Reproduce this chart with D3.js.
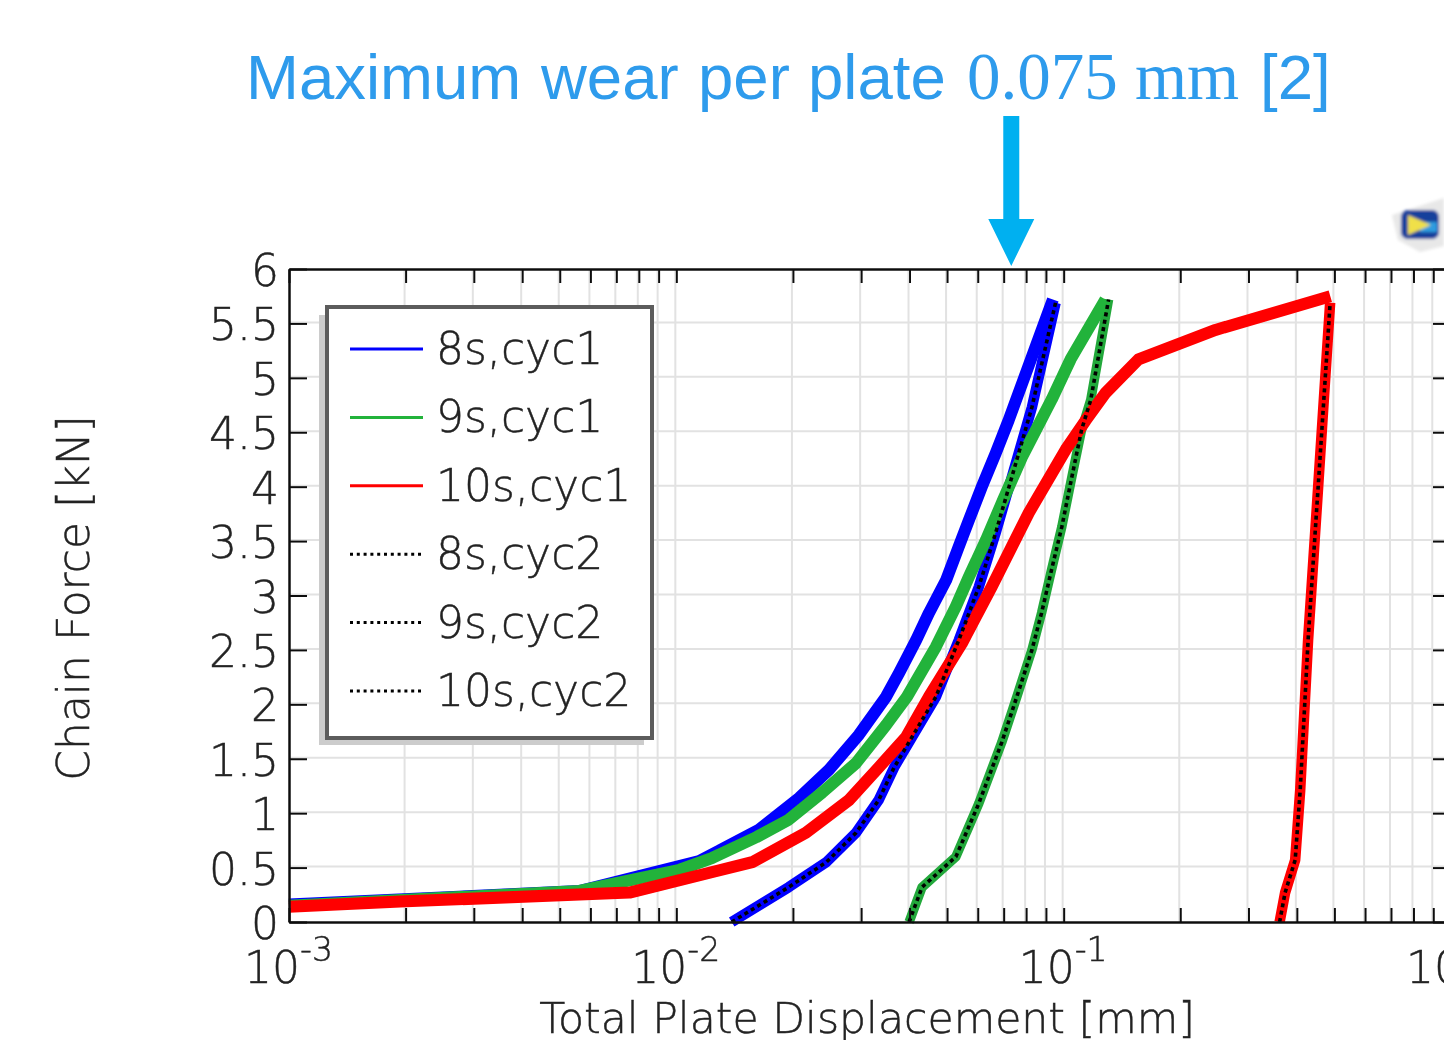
<!DOCTYPE html>
<html>
<head>
<meta charset="utf-8">
<script src="https://cdn.jsdelivr.net/npm/d3@7"></script>
<style>
    html, body { margin: 0; padding: 0; background: #fff; overflow: hidden; }
    svg { display: block; }
    text { font-family: "DejaVu Sans", sans-serif; font-weight: 200; fill: #222; stroke: #222; stroke-width: 0.45; }
</style>
</head>
<body>
<svg id="chart" width="1444" height="1040"></svg>
<script>
// [displacement mm, force kN]
const blueLoad = [[0.001, 0.16], [0.00562, 0.285], [0.01146, 0.56], [0.01637, 0.85], [0.02075, 1.14], [0.0248, 1.40], [0.0296, 1.72], [0.0348, 2.07], [0.0376, 2.29], [0.0416, 2.59], [0.0449, 2.84], [0.0497, 3.14], [0.0536, 3.45], [0.0569, 3.69], [0.0615, 4.0], [0.0668, 4.31], [0.0721, 4.61], [0.0938, 5.72]];
const blueBack = [[0.0139, 0], [0.0195, 0.32], [0.0244, 0.55], [0.0291, 0.82], [0.0333, 1.12], [0.0365, 1.42], [0.0406, 1.70], [0.0468, 2.07], [0.0536, 2.59], [0.0604, 3.08], [0.0668, 3.58], [0.0735, 4.09], [0.0828, 4.73], [0.0953, 5.69]];
const greenLoad = [[0.001, 0.15], [0.00562, 0.285], [0.0102, 0.48], [0.0124, 0.59], [0.0161, 0.78], [0.0195, 0.94], [0.0238, 1.19], [0.0291, 1.46], [0.0348, 1.81], [0.0394, 2.07], [0.0468, 2.53], [0.0527, 2.90], [0.0569, 3.17], [0.063, 3.51], [0.0692, 3.85], [0.078, 4.27], [0.0931, 4.80], [0.1042, 5.17], [0.1282, 5.72]];
const greenBack = [[0.0399, 0], [0.0431, 0.32], [0.0527, 0.60], [0.0604, 1.09], [0.0692, 1.65], [0.0757, 2.07], [0.0828, 2.50], [0.0877, 2.84], [0.0931, 3.24], [0.0989, 3.63], [0.105, 4.09], [0.1112, 4.52], [0.1175, 4.80], [0.1306, 5.72]];
const redLoad = [[0.001, 0.14], [0.002, 0.19], [0.00757, 0.27], [0.0157, 0.55], [0.0216, 0.82], [0.0279, 1.12], [0.0333, 1.42], [0.0392, 1.70], [0.0449, 2.07], [0.0546, 2.56], [0.0652, 3.08], [0.0735, 3.45], [0.0813, 3.76], [0.09, 4.03], [0.1012, 4.34], [0.114, 4.61], [0.1282, 4.86], [0.156, 5.17], [0.2466, 5.44], [0.488, 5.75]];
const redBack = [[0.361, 0], [0.373, 0.27], [0.396, 0.57], [0.408, 1.21], [0.4276, 2.59], [0.454, 4.0], [0.4875, 5.69]];

const legendLabels = ["8s,cyc1", "9s,cyc1", "10s,cyc1", "8s,cyc2", "9s,cyc2", "10s,cyc2"];
const legendColors = ["#0000ff", "#22b33a", "#ff0000", "#000", "#000", "#000"];
const yTicks = d3.range(0, 6.01, 0.5);
const yTickLabels = ["0", "0.5", "1", "1.5", "2", "2.5", "3", "3.5", "4", "4.5", "5", "5.5", "6"];
const decades = [0.001, 0.01, 0.1, 1];
const decadeLabels = ["-3", "-2", "-1", "0"];
const multipliers = [1, 2, 3, 4, 5, 6, 7, 8, 9];
const xTicks = decades.slice(0, 3).flatMap(d => multipliers.map(m => d * m)).concat([1]);

const svg = d3.select("#chart");
const plot = { left: 289, right: 1451, top: 269, bottom: 922 };

const x = d3.scaleLog().domain([0.001, 1]).range([plot.left, plot.right]);
const y = d3.scaleLinear().domain([0, 6]).range([plot.bottom, plot.top]);

// the reference is an enlarged screenshot, so everything is a bit soft
const defs = svg.append("defs");
defs.append("filter").attr("id", "soft")
    .append("feGaussianBlur").attr("stdDeviation", 0.7);
defs.append("filter").attr("id", "softer")
    .append("feGaussianBlur").attr("stdDeviation", 1.6);

const chart = svg.append("g").attr("filter", "url(#soft)");

// Grid
chart.append("g").selectAll("line")
    .data(xTicks.slice(1, -1))
    .enter().append("line")
    .attr("x1", d => x(d) - 1).attr("x2", d => x(d) - 1)
    .attr("y1", plot.top).attr("y2", plot.bottom)
    .attr("stroke", "#e2e2e2").attr("stroke-width", 2);

chart.append("g").selectAll("line")
    .data(yTicks.slice(1, -1))
    .enter().append("line")
    .attr("x1", plot.left).attr("x2", plot.right)
    .attr("y1", d => y(d) - 1).attr("y2", d => y(d) - 1)
    .attr("stroke", "#e2e2e2").attr("stroke-width", 2);

// Curves
const line = d3.line().x(d => x(d[0])).y(d => y(d[1]));

const curves = [
    { data: blueLoad, color: "#0000ff", width: 12 },
    { data: blueBack, color: "#0000ff", width: 10.5 },
    { data: greenBack, color: "#22a83a", width: 9.5 },
    { data: greenLoad, color: "#22b33a", width: 12 },
    { data: redBack, color: "#ff0000", width: 10.5 },
    { data: redLoad, color: "#ff0000", width: 12 }
];

chart.append("g").selectAll("path")
    .data(curves)
    .enter().append("path")
    .attr("d", d => line(d.data))
    .attr("fill", "none")
    .attr("stroke", d => d.color)
    .attr("stroke-width", d => d.width)
    .attr("stroke-linejoin", "round");

chart.append("g").selectAll("path")
    .data([blueBack, greenBack, redBack])
    .enter().append("path")
    .attr("d", d => line(d))
    .attr("fill", "none")
    .attr("stroke", "#000")
    .attr("stroke-width", 3.6)
    .attr("stroke-dasharray", "4 3.5");

// Axes, ticks point inward on all four sides
function styleAxis(g) {
    g.selectAll("text").remove();
    g.selectAll("line").attr("stroke", "#111").attr("stroke-width", 2);
    g.select(".domain").attr("stroke", "#111").attr("stroke-width", 2.5);
}

chart.append("g").attr("transform", `translate(0,${plot.bottom})`)
    .call(d3.axisBottom(x).tickValues(xTicks).tickSizeInner(-14).tickSizeOuter(0)).call(styleAxis);
chart.append("g").attr("transform", `translate(0,${plot.top})`)
    .call(d3.axisTop(x).tickValues(xTicks).tickSizeInner(-14).tickSizeOuter(0)).call(styleAxis);
chart.append("g").attr("transform", `translate(${plot.left},0)`)
    .call(d3.axisLeft(y).tickValues(yTicks).tickSizeInner(-18).tickSizeOuter(0)).call(styleAxis);
chart.append("g").attr("transform", `translate(${plot.right},0)`)
    .call(d3.axisRight(y).tickValues(yTicks).tickSizeInner(-18).tickSizeOuter(0)).call(styleAxis);

// Tick labels
chart.append("g").selectAll("text")
    .data(yTicks)
    .enter().append("text")
    .attr("x", 279)
    .attr("y", d => y(d) + 17)
    .attr("text-anchor", "end")
    .attr("font-size", 44)
    .text((d, i) => yTickLabels[i]);

const xLabels = chart.append("g").selectAll("text")
    .data(decades)
    .enter().append("text")
    .attr("x", d => x(d) - 45)
    .attr("y", 983)
    .attr("font-size", 44);
xLabels.append("tspan").text("10");
xLabels.append("tspan")
    .attr("font-size", 33)
    .attr("dy", -22)
    .text((d, i) => decadeLabels[i]);

// Axis titles
chart.append("text")
    .attr("x", 867).attr("y", 1033)
    .attr("text-anchor", "middle")
    .attr("font-size", 42.6)
    .text("Total Plate Displacement [mm]");

chart.append("text")
    .attr("transform", "translate(89,598) rotate(-90)")
    .attr("text-anchor", "middle")
    .attr("font-size", 44)
    .text("Chain Force [kN]");

// Legend
const legend = chart.append("g");
legend.append("rect")
    .attr("x", 319).attr("y", 315).attr("width", 325).attr("height", 430)
    .attr("fill", "#cccccc");
legend.append("rect")
    .attr("x", 327).attr("y", 307).attr("width", 325).attr("height", 431)
    .attr("fill", "#fff").attr("stroke", "#5c5c5c").attr("stroke-width", 4);

const legendY = d3.scalePoint().domain(legendLabels).range([349, 691]);

legend.selectAll("line")
    .data(legendLabels)
    .enter().append("line")
    .attr("x1", 350).attr("x2", 423)
    .attr("y1", d => legendY(d))
    .attr("y2", d => legendY(d))
    .attr("stroke", (d, i) => legendColors[i])
    .attr("stroke-width", 3)
    .attr("stroke-dasharray", d => d.endsWith("2") ? "3 3.8" : null);

legend.selectAll("text")
    .data(legendLabels)
    .enter().append("text")
    .attr("x", 436)
    .attr("y", d => legendY(d) + 15)
    .attr("font-size", 44)
    .text(d => d);

// Small program icon in the corner
const icon = svg.append("g").attr("filter", "url(#softer)");
icon.append("path")
    .attr("d", "M1392 215 L1444 198 L1444 246 L1420 252 L1398 240 Z")
    .attr("fill", "#e8e8e8");
icon.append("rect")
    .attr("x", 1401).attr("y", 210).attr("width", 38).attr("height", 29).attr("rx", 7)
    .attr("fill", "#123f9c");
icon.append("rect")
    .attr("x", 1420).attr("y", 222).attr("width", 17).attr("height", 10)
    .attr("fill", "#2f9be0");
icon.append("path").attr("d", "M1408 215 L1408 235 L1431 225 Z").attr("fill", "#f0e04a");

// Annotation above the plot
const titleParts = [
    { text: "Maximum", at: 246, serif: false },
    { text: "wear", at: 541, serif: false },
    { text: "per", at: 698, serif: false },
    { text: "plate", at: 808, serif: false },
    { text: "0.075", at: 967, serif: true },
    { text: "mm", at: 1135, serif: true },
    { text: "[2]", at: 1260, serif: false }
];

svg.append("g").selectAll("text")
    .data(titleParts)
    .enter().append("text")
    .attr("x", d => d.at)
    .attr("y", 99)
    .attr("font-size", d => d.serif ? 67 : 63.5)
    .style("font-family", d => d.serif ? "'Liberation Serif', serif" : "'Liberation Sans', sans-serif")
    .style("font-weight", 400)
    .style("fill", "#2e9bec")
    .style("stroke", "none")
    .text(d => d.text);

// Arrow to 0.075 mm, the original sits a little left of the value
const arrowX = x(0.075) - 4;
svg.append("path")
    .attr("d", d3.line()([
        [arrowX - 8, 116], [arrowX + 8, 116], [arrowX + 8, 219], [arrowX + 23, 219],
        [arrowX, 266], [arrowX - 23, 219], [arrowX - 8, 219]
    ]) + "Z")
    .attr("fill", "#00b0f0");
</script>
</body>
</html>
